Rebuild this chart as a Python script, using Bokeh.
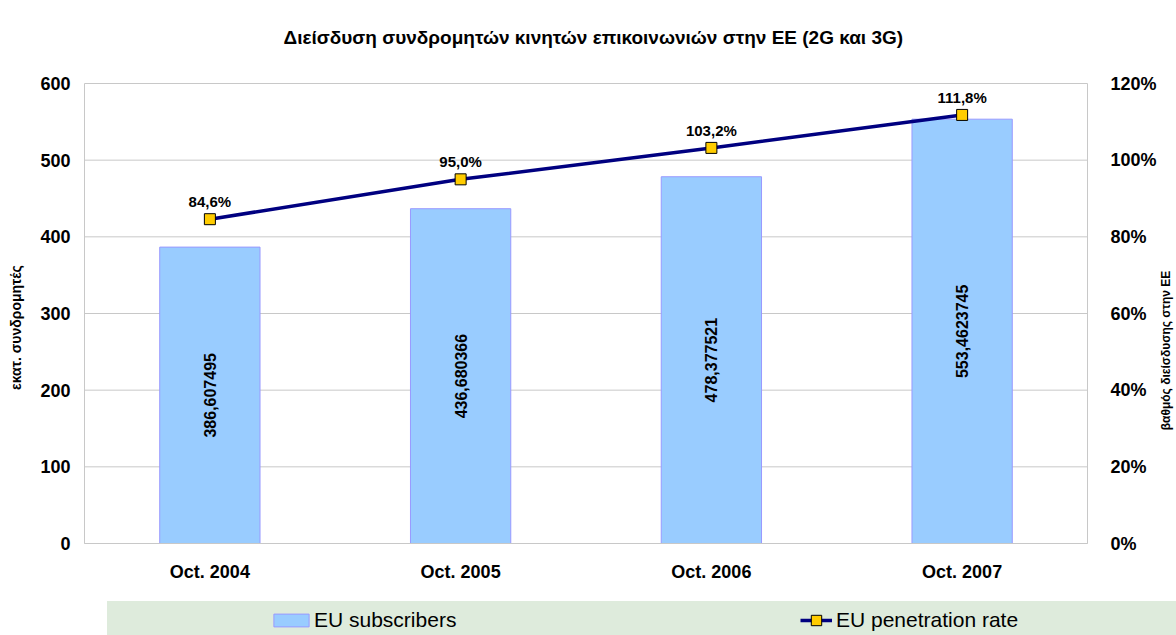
import math
from bokeh.plotting import figure
from bokeh.models import (ColumnDataSource, Range1d, LinearAxis, FixedTicker,
                          NumeralTickFormatter, Legend, LegendItem, Label)
from bokeh.core.properties import value
from bokeh.embed import file_html
from bokeh.resources import INLINE

# ---- data ----
categories = ["Oct. 2004", "Oct. 2005", "Oct. 2006", "Oct. 2007"]
subscribers = [386.607495, 436.680366, 478.377521, 553.4623745]   # millions
penetration = [0.846, 0.950, 1.032, 1.118]                         # share
left_ticks = [0, 100, 200, 300, 400, 500, 600]
right_ticks = [0.0, 0.2, 0.4, 0.6, 0.8, 1.0, 1.2]

FONT = "Liberation Sans"
GRID = "#C8C8C8"

# ---- layout geometry (pixels) ----
W, H = 1176, 635
PL, PR, PT, PB = 84, 1087, 83, 543          # plot-area edges
n = len(categories)
ymax = left_ticks[-1]
pmax = right_ticks[-1]
ux = (PR - PL) / n
uy = (PB - PT) / ymax
x_range = Range1d(-PL / ux, n + (W - PR) / ux)
y_range = Range1d(-(H - PB) / uy, ymax + PT / uy)
k = pmax / ymax
pct_range = Range1d(y_range.start * k, y_range.end * k)

xs = [i + 0.5 for i in range(n)]
bar_labels = [str(v).replace(".", ",") for v in subscribers]
pct_labels = [f"{v*100:.1f}%".replace(".", ",") for v in penetration]

src = ColumnDataSource(dict(x=xs, subs=subscribers, half=[v / 2 for v in subscribers],
                            pen=penetration, blab=bar_labels, plab=pct_labels))

p = figure(width=W, height=H, x_range=x_range, y_range=y_range, output_backend="svg",
           toolbar_location=None, title=None, x_axis_type=None, y_axis_type=None,
           min_border_left=0, min_border_right=0, min_border_top=0, min_border_bottom=0)
p.outline_line_color = None
p.extra_y_ranges = {"pct": pct_range}

# gridlines (behind bars)
p.segment(x0=[0] * len(left_ticks), x1=[n] * len(left_ticks), y0=left_ticks, y1=left_ticks,
          line_color=GRID, line_width=1)

# bars
r_bar = p.vbar(x="x", top="subs", width=0.4, source=src, fill_color="#99CCFF",
               line_color="#9999FF", line_width=1)
p.text(x="x", y="half", text="blab", source=src, angle=math.pi / 2, text_align="center",
       text_baseline="middle", text_font=value(FONT), text_font_size="16px", text_font_style="bold",
       text_color="black")

# line
r_line = p.line(x="x", y="pen", source=src, y_range_name="pct", line_color="#000080", line_width=3.5)
r_pt = p.scatter(x="x", y="pen", source=src, y_range_name="pct", marker="square", size=11,
                 fill_color="#FFCC00", line_color="black", line_width=1)
p.text(x="x", y="pen", text="plab", source=src, y_range_name="pct", text_align="center",
       text_baseline="bottom", y_offset=-9, text_font=value(FONT), text_font_size="15px",
       text_font_style="bold", text_color="black")

# axes (fixed inside the canvas)
def style_axis(ax, standoff):
    ax.major_tick_line_color = None
    ax.minor_tick_line_color = None
    ax.major_tick_out = 0
    ax.major_tick_in = 0
    ax.minor_tick_out = 0
    ax.minor_tick_in = 0
    ax.axis_line_color = GRID
    ax.major_label_standoff = standoff
    ax.major_label_text_font = FONT
    ax.major_label_text_font_size = "18px"
    ax.major_label_text_font_style = "bold"
    ax.major_label_text_color = "black"

xa = LinearAxis(fixed_location=0, bounds=(0, n), ticker=FixedTicker(ticks=xs),
                major_label_overrides={x: c for x, c in zip(xs, categories)})
style_axis(xa, 18)
p.add_layout(xa, "below")

ya = LinearAxis(fixed_location=0, bounds=(0, ymax), ticker=FixedTicker(ticks=left_ticks))
style_axis(ya, 14)
p.add_layout(ya, "left")

ra = LinearAxis(y_range_name="pct", fixed_location=n, bounds=(0, pmax),
                ticker=FixedTicker(ticks=right_ticks), formatter=NumeralTickFormatter(format="0%"))
style_axis(ra, 23)
p.add_layout(ra, "right")

# title and axis titles
p.add_layout(Label(x=283, y=H - 37, x_units="screen", y_units="screen",
                   text="Διείσδυση συνδρομητών κινητών επικοινωνιών στην ΕΕ (2G και 3G)",
                   text_align="left", text_baseline="middle", text_font=FONT,
                   text_font_size="19px", text_font_style="bold", text_color="black"))
p.add_layout(Label(x=15, y=H - 327, x_units="screen", y_units="screen", angle=math.pi / 2,
                   text="εκατ. συνδρομητές", text_align="center", text_baseline="middle",
                   text_font=FONT, text_font_size="14px", text_font_style="bold", text_color="black"))
p.add_layout(Label(x=1165, y=H - 350, x_units="screen", y_units="screen", angle=math.pi / 2,
                   text="βαθμός διείσδυσης στην ΕΕ", text_align="center", text_baseline="middle",
                   text_font=FONT, text_font_size="12px", text_font_style="bold", text_color="black"))

# ---- legend strip (green band + items) ----
r_none = p.scatter(x=[], y=[], fill_alpha=0, line_alpha=0)

legBG = Legend(items=[LegendItem(label=" ", renderers=[r_none])], location=(107, 0),
               glyph_width=1, glyph_height=34, label_standoff=0, label_width=W - 108,
               padding=0, margin=0, spacing=0, border_line_color=None,
               background_fill_color="#DEEBDC", background_fill_alpha=1,
               label_text_font=FONT, label_text_font_size="21px")
p.add_layout(legBG)

def item_legend(label, rends, loc, gw, gh, standoff):
    return Legend(items=[LegendItem(label=label, renderers=rends)], location=loc,
                  glyph_width=gw, glyph_height=gh, label_standoff=standoff,
                  padding=0, margin=0, spacing=0, border_line_color=None,
                  background_fill_alpha=0, label_text_font=FONT,
                  label_text_font_size="21px", label_text_color="black")

p.add_layout(item_legend("EU subscribers", [r_bar], (269, 3), 44, 16, 1))
p.add_layout(item_legend("EU penetration rate", [r_line, r_pt], (800, 2), 32, 26, 4))

open("out.html", "w").write(file_html(p, INLINE))
